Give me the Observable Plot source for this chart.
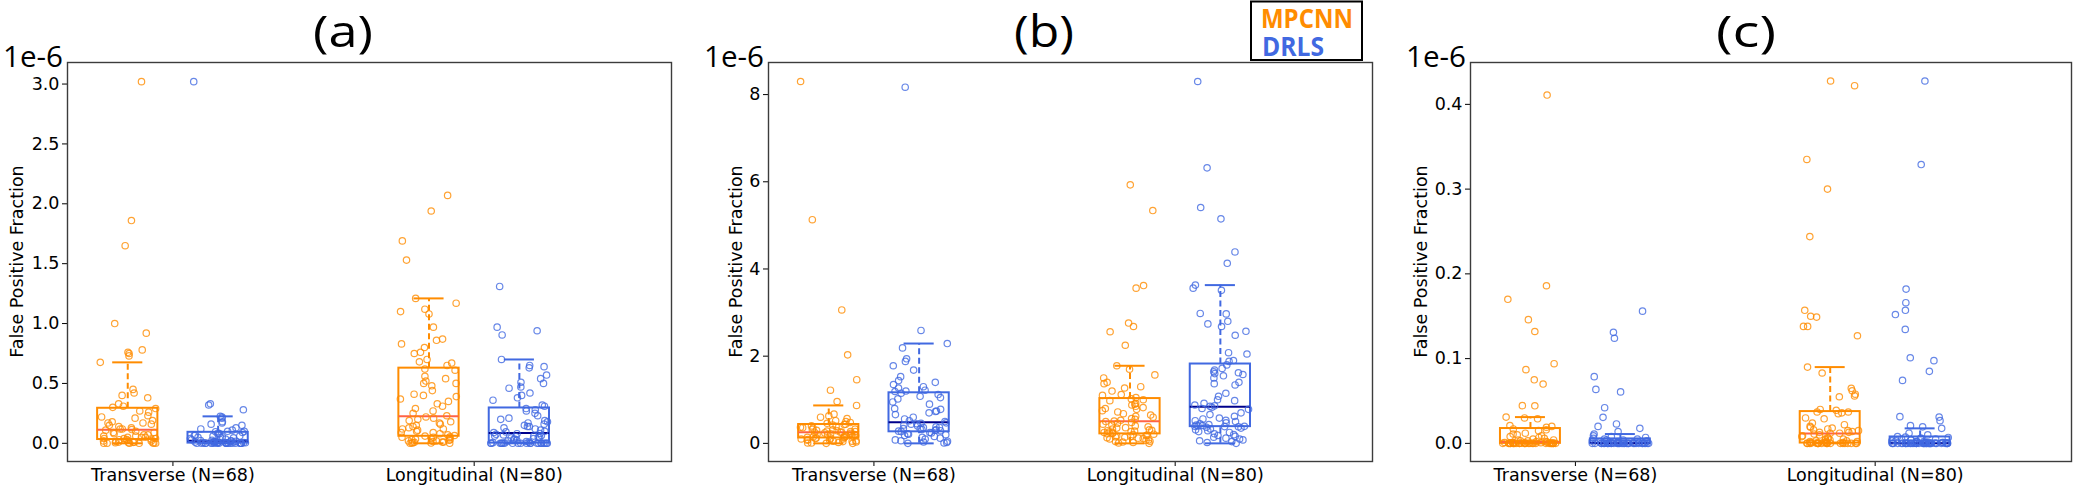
<!DOCTYPE html>
<html><head><meta charset="utf-8">
<script src="https://cdn.jsdelivr.net/npm/d3@7"></script>
<script src="https://cdn.jsdelivr.net/npm/@observablehq/plot@0.6"></script>
<style>
body{margin:0;background:#fff;}
#wrap{position:relative;width:2075px;height:487px;overflow:hidden;background:#fff;}
#wrap svg{position:absolute;top:0;}
</style></head><body><div id="wrap"></div>
<script>
// ---- text ----
const categories = ["Transverse (N=68)", "Longitudinal (N=80)"];
const methods = ["MPCNN", "DRLS"];
const panelTitles = ["(a)", "(b)", "(c)"];
const scaleLabel = "1e-6";
const yLabel = "False Positive Fraction";
const yTicksA = [0, 0.5, 1.0, 1.5, 2.0, 2.5, 3.0];
const yTicksB = [0, 2, 4, 6, 8];
const yTicksC = [0, 0.1, 0.2, 0.3, 0.4];

// ---- values (units of 1e-6) ----
const aTransMPCNN = [3.02,1.86,1.65,1.0,0.92,0.78,0.76,0.75,0.73,0.676,0.45,0.42,0.40,0.38,0.33,0.31,0.30,
 0.29,0.27,0.26,0.23,0.22,0.21,0.19,0.18,0.17,0.17,0.16,0.15,0.14,0.13,0.12,0.12,0.115,
 0.11,0.10,0.09,0.09,0.08,0.07,0.07,0.06,0.06,0.05,0.05,0.05,0.04,0.04,0.04,0.035,0.032,
 0.03,0.025,0.02,0.02,0.015,0.01,0.01,0.008,0.005,0.005,0.003,0.002,0.001,0,0,0,0];
const aTransDRLS = [3.02,0.33,0.32,0.28,0.225,0.22,0.21,0.18,0.17,0.16,0.15,0.13,0.12,0.11,0.10,0.10,0.097,
 0.09,0.085,0.08,0.075,0.07,0.065,0.06,0.06,0.055,0.05,0.05,0.045,0.04,0.035,0.03,0.025,0.022,
 0.02,0.018,0.016,0.015,0.013,0.012,0.01,0.01,0.008,0.007,0.006,0.005,0.004,0.004,0.003,0.003,0.002,
 0.001,0.001,0,0,0,0,0,0,0,0,0,0,0,0,0,0,0];
const aLongMPCNN = [2.07,1.94,1.69,1.53,1.21,1.17,1.12,1.10,1.08,0.97,0.87,0.86,0.83,0.80,0.76,0.75,0.70,0.68,0.67,0.65,
 0.62,0.61,0.56,0.54,0.52,0.50,0.50,0.48,0.44,0.41,0.40,0.39,0.37,0.35,0.33,0.31,0.29,0.27,0.25,0.23,
 0.22,0.21,0.20,0.19,0.18,0.17,0.16,0.15,0.14,0.13,0.12,0.12,0.11,0.10,0.09,0.09,0.08,0.07,0.065,0.06,
 0.055,0.05,0.05,0.045,0.04,0.035,0.03,0.03,0.025,0.02,0.02,0.015,0.01,0.01,0.008,0.005,0.003,0.002,0,0];
const aLongDRLS = [1.31,0.97,0.94,0.905,0.70,0.65,0.64,0.63,0.57,0.54,0.51,0.50,0.47,0.46,0.42,0.40,0.38,0.36,0.32,0.31,
 0.29,0.28,0.27,0.25,0.23,0.21,0.20,0.19,0.18,0.17,0.16,0.15,0.14,0.14,0.13,0.12,0.11,0.10,0.095,0.09,
 0.082,0.08,0.075,0.07,0.065,0.06,0.06,0.055,0.05,0.05,0.045,0.04,0.035,0.03,0.025,0.02,0.015,0.01,0.005,0.002,
 0.001,0.001,0.001,0,0,0,0,0,0,0,0,0,0,0,0,0,0,0,0,0];

const bTransMPCNN = [8.3,5.13,3.06,2.03,1.46,1.22,0.96,0.87,0.67,0.63,0.60,0.57,0.52,0.50,0.48,0.46,0.44,
 0.43,0.42,0.40,0.39,0.37,0.36,0.35,0.33,0.32,0.31,0.30,0.29,0.28,0.27,0.27,0.26,0.255,
 0.25,0.24,0.23,0.22,0.21,0.20,0.20,0.19,0.18,0.17,0.16,0.16,0.15,0.14,0.14,0.13,0.125,
 0.12,0.11,0.10,0.10,0.09,0.08,0.07,0.06,0.05,0.05,0.04,0.03,0.02,0.01,0.01,0,0];
const bTransDRLS = [8.17,2.59,2.29,2.19,1.94,1.88,1.78,1.68,1.53,1.44,1.40,1.35,1.30,1.27,1.22,1.20,1.19,
 1.15,1.12,1.08,1.05,1.02,0.95,0.90,0.80,0.78,0.74,0.73,0.70,0.66,0.60,0.56,0.52,0.50,
 0.47,0.46,0.45,0.44,0.42,0.40,0.38,0.37,0.36,0.34,0.33,0.32,0.31,0.30,0.29,0.28,0.27,
 0.25,0.24,0.22,0.21,0.20,0.18,0.16,0.14,0.12,0.10,0.08,0.06,0.05,0.03,0.02,0.01,0];
const bLongMPCNN = [5.93,5.34,3.62,3.56,2.76,2.68,2.56,2.25,1.78,1.70,1.57,1.50,1.40,1.37,1.30,1.27,1.20,1.12,1.10,1.05,
 1.02,1.0,0.98,0.92,0.90,0.88,0.85,0.82,0.80,0.78,0.75,0.72,0.68,0.65,0.62,0.60,0.57,0.55,0.53,0.51,
 0.50,0.48,0.46,0.44,0.42,0.40,0.38,0.36,0.35,0.33,0.31,0.30,0.29,0.28,0.27,0.26,0.25,0.24,0.23,0.22,
 0.21,0.20,0.19,0.18,0.17,0.16,0.15,0.14,0.13,0.12,0.11,0.10,0.08,0.07,0.05,0.04,0.03,0.02,0.01,0];
const bLongDRLS = [8.30,6.32,5.41,5.15,4.39,4.13,3.63,3.56,3.51,2.98,2.97,2.80,2.74,2.68,2.57,2.48,2.08,2.05,1.90,1.88,
 1.80,1.72,1.68,1.64,1.62,1.60,1.58,1.55,1.50,1.40,1.37,1.34,1.15,1.08,1.0,0.98,0.92,0.88,0.86,0.85,
 0.83,0.80,0.78,0.70,0.66,0.62,0.58,0.56,0.53,0.52,0.50,0.47,0.45,0.43,0.42,0.41,0.40,0.39,0.39,0.385,
 0.38,0.37,0.35,0.33,0.31,0.29,0.27,0.25,0.22,0.20,0.18,0.16,0.14,0.12,0.10,0.08,0.06,0.04,0.02,0];

const cTransMPCNN = [0.411,0.186,0.170,0.146,0.132,0.094,0.087,0.075,0.070,0.0445,0.0443,0.031,0.030,0.029,0.021,0.020,0.019,
 0.017,0.016,0.015,0.012,0.011,0.010,0.009,0.008,0.007,0.006,0.005,0.004,0.004,0.003,0.003,0.002,0.002,
 0.0015,0.001,0.001,0.0008,0.0005,0.0003,0,0,0,0,0,0,0,0,0,0,0,0,0,0,0,0,0,0,0,0,0,0,0,0,0,0,0,0];
const cTransDRLS = [0.156,0.131,0.124,0.0787,0.0637,0.0607,0.0421,0.0307,0.0229,0.020,0.0177,0.014,0.011,0.009,0.008,0.007,0.006,
 0.005,0.005,0.004,0.004,0.003,0.003,0.002,0.002,0.002,0.001,0.001,0.001,0.0008,0.0005,0.0003,0.0002,0.0001,
 0,0,0,0,0,0,0,0,0,0,0,0,0,0,0,0,0,0,0,0,0,0,0,0,0,0,0,0,0,0,0,0,0,0];
const cLongMPCNN = [0.4276,0.422,0.335,0.300,0.244,0.157,0.150,0.149,0.138,0.138,0.127,0.090,0.083,0.065,0.062,0.058,0.056,0.055,0.040,0.039,
 0.037,0.037,0.036,0.035,0.030,0.029,0.024,0.022,0.020,0.019,0.018,0.017,0.016,0.015,0.015,0.014,0.013,0.013,0.012,0.012,
 0.011,0.010,0.009,0.008,0.007,0.006,0.005,0.005,0.004,0.004,0.003,0.003,0.002,0.002,0.002,0.001,0.001,0.001,0.001,0.0005,
 0,0,0,0,0,0,0,0,0,0,0,0,0,0,0,0,0,0,0,0];
const cLongDRLS = [0.4276,0.329,0.182,0.166,0.157,0.152,0.1345,0.101,0.0976,0.085,0.0743,0.0315,0.031,0.0268,0.0209,0.0195,0.0177,0.012,0.010,0.008,
 0.0074,0.007,0.006,0.006,0.005,0.005,0.004,0.004,0.003,0.003,0.002,0.002,0.002,0.001,0.001,0.001,0.0005,0.0005,0.0002,0.0001,
 0,0,0,0,0,0,0,0,0,0,0,0,0,0,0,0,0,0,0,0,
 0,0,0,0,0,0,0,0,0,0,0,0,0,0,0,0,0,0,0,0];

// ---- layout / style ----
const panels = [
  {groups: [[aTransMPCNN, aTransDRLS], [aLongMPCNN, aLongDRLS]], ticks: yTicksA, fmt: d3.format(".1f"), domain: [-0.152, 3.18], left: 0, width: 700, ml: 67, mr: 29, ylabOff: -50},
  {groups: [[bTransMPCNN, bTransDRLS], [bLongMPCNN, bLongDRLS]], ticks: yTicksB, fmt: d3.format("d"), domain: [-0.416, 8.736], left: 700, width: 700, ml: 68, mr: 28, ylabOff: -32},
  {groups: [[cTransMPCNN, cTransDRLS], [cLongMPCNN, cLongDRLS]], ticks: yTicksC, fmt: d3.format(".1f"), domain: [-0.0214, 0.4494], left: 1400, width: 675, ml: 70, mr: 4, ylabOff: -49}
];
const boxColors = ["#ff8c00", "#4169e1"];
const medianColors = ["#ff6347", "#00008b"];
const offsets = [-0.15, 0.15];
const halfBox = 0.1, halfCap = 0.05;
const MT = 62, MB = 26, H = 487;
const tickFont = 17.5;

function stats(v) {
  const s = [...v].sort(d3.ascending);
  const q1 = d3.quantileSorted(s, 0.25), med = d3.quantileSorted(s, 0.5), q3 = d3.quantileSorted(s, 0.75);
  const iqr = q3 - q1;
  const hi = d3.max(s.filter(d => d <= q3 + 1.5 * iqr));
  const lo = d3.min(s.filter(d => d >= q1 - 1.5 * iqr));
  return {q1, med, q3, hi, lo};
}
function jitter(i, seed) {
  const s = Math.sin((i + 1) * 12.9898 + seed * 78.233) * 43758.5453;
  return (s - Math.floor(s)) * 2 - 1;
}

const wrap = document.getElementById("wrap");
panels.forEach((p, pi) => {
  const marks = [];
  p.groups.forEach((pair, ci) => {
    pair.forEach((vals, mi) => {
      const x = ci + 1 + offsets[mi];
      const st = stats(vals);
      const b = [{...st, x}];
      const col = boxColors[mi];
      marks.push(
        Plot.ruleX(b, {x: "x", y1: "q3", y2: "hi", stroke: col, strokeWidth: 2, strokeDasharray: "6,3.5"}),
        Plot.ruleX(b, {x: "x", y1: "lo", y2: "q1", stroke: col, strokeWidth: 2, strokeDasharray: "6,3.5"}),
        Plot.ruleY(b, {y: "hi", x1: d => d.x - halfCap, x2: d => d.x + halfCap, stroke: col, strokeWidth: 2}),
        Plot.ruleY(b, {y: "lo", x1: d => d.x - halfCap, x2: d => d.x + halfCap, stroke: col, strokeWidth: 2}),
        Plot.rect(b, {x1: d => d.x - halfBox, x2: d => d.x + halfBox, y1: "q1", y2: "q3", fill: "none", stroke: col, strokeWidth: 2}),
        Plot.ruleY(b, {y: "med", x1: d => d.x - halfBox, x2: d => d.x + halfBox, stroke: medianColors[mi], strokeWidth: 2})
      );
      const pts = vals.map((v, i) => ({x: x + 0.095 * jitter(i, pi * 10 + ci * 3 + mi + 1), y: v}));
      marks.push(Plot.dot(pts, {x: "x", y: "y", r: 3.2, stroke: col, strokeWidth: 1.2, strokeOpacity: 0.8, fill: "none"}));
    });
  });
  marks.push(
    Plot.axisY(p.ticks, {tickSize: 5, tickPadding: 3, tickFormat: p.fmt, fontSize: tickFont, label: null}),
    Plot.axisX([1, 2], {tickSize: 5, tickPadding: 2, tickFormat: d => categories[d - 1], fontSize: tickFont, label: null}),
    Plot.frame({stroke: "#3c3c3c", strokeWidth: 1.4})
  );
  const chart = Plot.plot({
    width: p.width, height: H,
    marginLeft: p.ml, marginRight: p.mr, marginTop: MT, marginBottom: MB,
    x: {type: "linear", domain: [0.65, 2.655]},
    y: {type: "linear", domain: p.domain},
    style: {fontFamily: "'DejaVu Sans', sans-serif", color: "#000", background: "transparent", overflow: "visible"},
    marks
  });
  chart.style.left = p.left + "px";
  wrap.appendChild(chart);
  const svg = d3.select(chart);
  svg.append("text").attr("x", p.ml + 276).attr("y", 47)
    .attr("text-anchor", "middle").attr("font-family", "'Open Sans', sans-serif").attr("font-size", 44)
    .attr("textLength", 60).attr("lengthAdjust", "spacingAndGlyphs").attr("fill", "#000").text(panelTitles[pi]);
  svg.append("text").attr("x", p.ml - 4).attr("y", 66.5)
    .attr("text-anchor", "end").attr("font-family", "'Open Sans', sans-serif").attr("font-size", 30)
    .attr("textLength", 60).attr("lengthAdjust", "spacingAndGlyphs").attr("fill", "#000").text(scaleLabel);
  svg.append("text").attr("transform", `translate(${p.ml + p.ylabOff},${(MT + H - MB) / 2}) rotate(-90)`)
    .attr("text-anchor", "middle").attr("dominant-baseline", "central")
    .attr("font-family", "'DejaVu Sans', sans-serif").attr("font-size", 17.5).attr("fill", "#000").text(yLabel);
  if (pi === 1) {
    svg.append("rect").attr("x", 551).attr("y", 1.5).attr("width", 111).attr("height", 58.5)
      .attr("fill", "#fff").attr("stroke", "#000").attr("stroke-width", 2);
    svg.append("text").attr("x", 561).attr("y", 28.3).attr("text-anchor", "start").attr("font-family", "'Open Sans', sans-serif")
      .attr("font-weight", "bold").attr("font-size", 27).attr("textLength", 92).attr("lengthAdjust", "spacingAndGlyphs")
      .attr("fill", boxColors[0]).text(methods[0]);
    svg.append("text").attr("x", 562).attr("y", 56).attr("text-anchor", "start").attr("font-family", "'Open Sans', sans-serif")
      .attr("font-weight", "bold").attr("font-size", 26).attr("textLength", 62).attr("lengthAdjust", "spacingAndGlyphs")
      .attr("fill", boxColors[1]).text(methods[1]);
  }
});
</script></body></html>
